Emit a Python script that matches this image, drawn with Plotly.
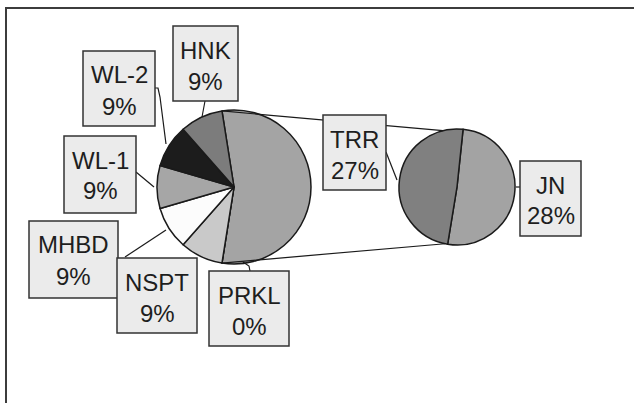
import math
import plotly.graph_objects as go

W, H = 634, 403

# Slices kept in the primary pie (percent of all sites)
primary_labels = ["HNK", "WL-2", "WL-1", "MHBD", "NSPT", "PRKL"]
primary_values = [9, 9, 9, 9, 9, 0]
primary_colors = ["#7c7c7c", "#1c1c1c", "#a6a6a6", "#fcfcfc", "#c9c9c9", "#e0e0e0"]

# Slices split out into the secondary pie
secondary_labels = ["JN", "TRR"]
secondary_values = [28, 27]
secondary_colors = ["#a3a3a3", "#808080"]

other_color = "#a4a4a4"
edge_color = "#1a1a1a"

# Pie placement in pixels (centre x, centre y, radius)
main_cx, main_cy, main_r = 234, 187, 77
sec_cx, sec_cy, sec_r = 457, 187, 58


def px(x):
    return x / W


def py(y):
    return 1 - y / H


def domain(cx, cy, r):
    return dict(x=[px(cx - r), px(cx + r)], y=[py(cy + r), py(cy - r)])


total = sum(primary_values) + sum(secondary_values)
other_value = sum(secondary_values)
other_deg = 360 * other_value / total
main_rotation = 90 - other_deg / 2
sec_rotation = 6

# Primary pie: the combined "other" wedge first, then the rest clockwise
main_vals = [other_value] + primary_values[::-1]
main_cols = [other_color] + primary_colors[::-1]
main_labs = ["Other"] + primary_labels[::-1]

fig = go.Figure()
fig.add_trace(go.Pie(
    values=main_vals, labels=main_labs, sort=False, direction="clockwise",
    rotation=main_rotation, textinfo="none", hoverinfo="label+percent",
    marker=dict(colors=main_cols, line=dict(color=edge_color, width=1.5)),
    domain=domain(main_cx, main_cy, main_r), showlegend=False,
))
fig.add_trace(go.Pie(
    values=secondary_values, labels=secondary_labels, sort=False,
    direction="clockwise", rotation=sec_rotation, textinfo="none",
    hoverinfo="label+value",
    marker=dict(colors=secondary_colors, line=dict(color=edge_color, width=1.5)),
    domain=domain(sec_cx, sec_cy, sec_r), showlegend=False,
))


def on_circle(cx, cy, r, deg):
    a = math.radians(deg)
    return cx + r * math.sin(a), cy - r * math.cos(a)


def path(points):
    d = "M " + " L ".join(f"{px(x):.5f},{py(y):.5f}" for x, y in points)
    return dict(type="path", xref="paper", yref="paper", path=d,
                line=dict(color="#1a1a1a", width=1.2))


shapes = []

# Chart frame
shapes.append(dict(type="rect", xref="paper", yref="paper",
                   x0=px(6), y0=py(8), x1=1.05, y1=-0.05,
                   line=dict(color="#3c3c3c", width=2), fillcolor="rgba(0,0,0,0)"))

# Lines joining the "other" wedge to the secondary pie
top_a = on_circle(main_cx, main_cy, main_r, main_rotation)
bot_a = on_circle(main_cx, main_cy, main_r, main_rotation + other_deg)
top_b = on_circle(sec_cx, sec_cy, sec_r, -14)
bot_b = on_circle(sec_cx, sec_cy, sec_r, 192)
shapes.append(path([top_a, top_b]))
shapes.append(path([bot_a, bot_b]))

# Leader lines from label boxes to slices
leaders = [
    [(205, 101), (202, 117)],
    [(155, 88), (158, 88), (160, 97), (166, 144)],
    [(136, 172), (154, 187)],
    [(125, 257), (166, 230)],
    [(250, 271), (249, 266), (243, 262)],
    [(386, 152), (397, 180)],
    [(516, 187), (520, 187)],
]
for pts in leaders:
    shapes.append(path(pts))

# Label boxes: (name, left, top, right, bottom)
label_boxes = [
    ("HNK", 173, 26, 238, 101),
    ("WL-2", 83, 51, 155, 126),
    ("WL-1", 64, 136, 136, 213),
    ("MHBD", 29, 221, 118, 298),
    ("NSPT", 117, 258, 197, 333),
    ("PRKL", 209, 271, 289, 346),
    ("TRR", 323, 115, 386, 190),
    ("JN", 520, 161, 581, 236),
]

values_by_name = dict(zip(primary_labels + secondary_labels,
                          primary_values + secondary_values))

annotations = []
font = dict(family="Liberation Sans, Arial, sans-serif", size=24, color="#1e1e1e")
for name, x0, y0, x1, y1 in label_boxes:
    shapes.append(dict(type="rect", xref="paper", yref="paper",
                       x0=px(x0), y0=py(y1), x1=px(x1), y1=py(y0),
                       line=dict(color="#333333", width=1.5), fillcolor="#ebebeb"))
    pct = 100 * values_by_name[name] / total
    cx = (x0 + x1) / 2
    annotations.append(dict(x=px(cx), y=py(y0 + 24), xref="paper", yref="paper",
                            text=name, showarrow=False, font=font,
                            xanchor="center", yanchor="middle"))
    annotations.append(dict(x=px(cx), y=py(y0 + 55), xref="paper", yref="paper",
                            text=f"{pct:.0f}%", showarrow=False, font=font,
                            xanchor="center", yanchor="middle"))

fig.update_layout(
    width=W, height=H,
    margin=dict(l=0, r=0, t=0, b=0),
    paper_bgcolor="white", plot_bgcolor="white",
    shapes=shapes, annotations=annotations,
)

fig.write_html("out.html")
